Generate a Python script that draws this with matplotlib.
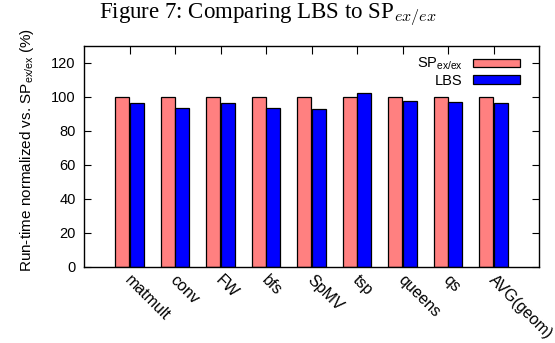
import numpy as np
import matplotlib
matplotlib.use("Agg")
import matplotlib.pyplot as plt
from matplotlib.transforms import ScaledTranslation

# values
benchmarks = ['matmult', 'conv', 'FW', 'bfs', 'SpMV', 'tsp', 'queens', 'qs', 'AVG(geom)']
sp_exex = [100, 100, 100, 100, 100, 100, 100, 100, 100]
lbs = [96.7, 93.8, 96.6, 93.6, 93.2, 102.2, 97.4, 97.0, 96.2]

plt.rcParams['font.family'] = ['Liberation Sans', 'DejaVu Sans']
plt.rcParams['mathtext.fontset'] = 'custom'
plt.rcParams['mathtext.rm'] = 'Liberation Sans'
plt.rcParams['mathtext.it'] = 'Liberation Serif:italic'

fig = plt.figure(figsize=(5.55, 3.43), dpi=100)
ax = fig.add_axes([84 / 555, 1 - 267 / 343, 455 / 555, 221 / 343])

x = np.arange(len(benchmarks))
w = 0.3
ax.bar(x - w / 2 - 0.01, sp_exex, w, color='#ff8080', edgecolor='black', linewidth=0.9,
       label=r'SP$_{\mathrm{ex/ex}}$')
ax.bar(x + w / 2 + 0.01, lbs, w, color='#0000ff', edgecolor='black', linewidth=0.9,
       label='LBS')

ax.set_xlim(-1, 9)
ax.set_ylim(0, 130)
ax.set_yticks(range(0, 121, 20))
ax.set_xticks(x)
ax.set_xticklabels(benchmarks, rotation=-45, ha='left', va='top', rotation_mode='anchor', fontsize=11.5)
ax.tick_params(axis='y', direction='in', length=5, right=True, labelsize=10.5, pad=6)
ax.tick_params(axis='x', direction='in', length=6, top=True, bottom=False, pad=4)
shift = ScaledTranslation(3 / 100, 0, fig.dpi_scale_trans)
for lab in ax.get_xticklabels():
    lab.set_transform(lab.get_transform() + shift)
for s in ax.spines.values():
    s.set_linewidth(1.0)

ax.set_ylabel(r'Run-time normalized vs. SP$_{\mathrm{ex/ex}}$ (%)', fontsize=11)
ax.yaxis.set_label_coords(-0.105, 0.53)

ax.legend(loc='upper right', frameon=False, markerfirst=False, fontsize=10.5,
          handlelength=3.2, handleheight=0.55, labelspacing=0.1, handletextpad=0.7,
          borderaxespad=0.3, bbox_to_anchor=(0.98, 1.0))

fig.suptitle(r'Figure 7: Comparing LBS to SP$_{ex/ex}$', fontsize=16.5,
             family=['Liberation Serif', 'DejaVu Serif'], math_fontfamily='cm',
             x=0.482, y=0.995)

fig.savefig('out.png', dpi=100)
